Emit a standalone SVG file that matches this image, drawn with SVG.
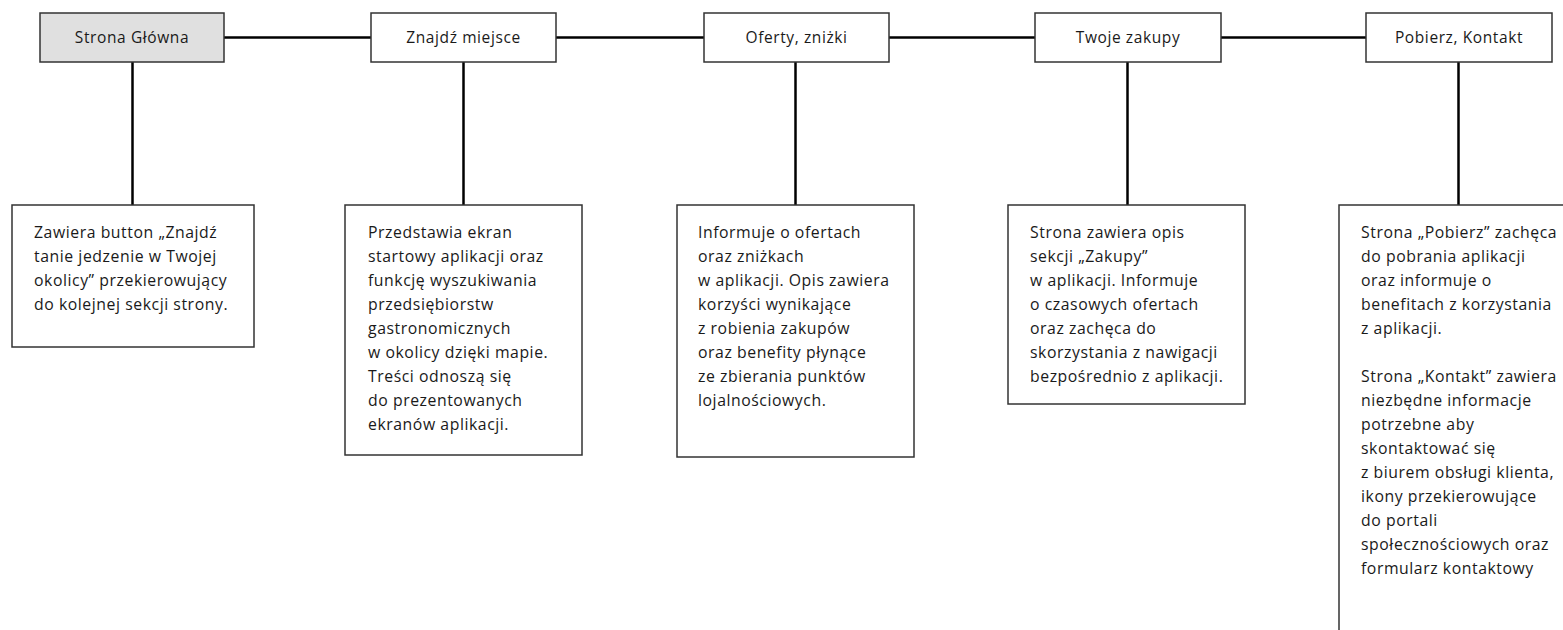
<svg xmlns="http://www.w3.org/2000/svg" width="1563" height="630" viewBox="0 0 1563 630">
<style>
.bg{fill:#ffffff}
.box{fill:#ffffff;stroke:#333333;stroke-width:1.5}
.home{fill:#e0e0e0}
.ln{stroke:#000000;stroke-width:2.5;fill:none}
.lbl{font-family:"Open Sans","Liberation Sans",sans-serif;font-size:15.5px;letter-spacing:0.6px;fill:#1a1a1a;text-anchor:middle}
.txt{font-family:"Open Sans","Liberation Sans",sans-serif;font-size:15.8px;letter-spacing:0.55px;fill:#1a1a1a}
</style>
<rect class="bg" x="0" y="0" width="1563" height="630"/>
<g id="connectors">
<line class="ln" x1="224" y1="37.5" x2="371" y2="37.5"/>
<line class="ln" x1="556" y1="37.5" x2="704" y2="37.5"/>
<line class="ln" x1="889" y1="37.5" x2="1035" y2="37.5"/>
<line class="ln" x1="1221" y1="37.5" x2="1366" y2="37.5"/>
<line class="ln" x1="132.5" y1="62" x2="132.5" y2="205"/>
<line class="ln" x1="463.5" y1="62" x2="463.5" y2="205"/>
<line class="ln" x1="795.5" y1="62" x2="795.5" y2="205"/>
<line class="ln" x1="1127.5" y1="62" x2="1127.5" y2="205"/>
<line class="ln" x1="1458.5" y1="62" x2="1458.5" y2="205"/>
</g>
<g id="n-strona-glowna">
<rect class="box home" x="40" y="13" width="184" height="49"/>
<text class="lbl" x="132" y="43">Strona Główna</text>
</g>
<g id="n-znajdz-miejsce">
<rect class="box" x="371" y="13" width="185" height="49"/>
<text class="lbl" x="463.5" y="43">Znajdź miejsce</text>
</g>
<g id="n-oferty">
<rect class="box" x="704" y="13" width="185" height="49"/>
<text class="lbl" x="796.5" y="43">Oferty, zniżki</text>
</g>
<g id="n-zakupy">
<rect class="box" x="1035" y="13" width="186" height="49"/>
<text class="lbl" x="1128" y="43">Twoje zakupy</text>
</g>
<g id="n-pobierz">
<rect class="box" x="1366" y="13" width="186" height="49"/>
<text class="lbl" x="1459" y="43">Pobierz, Kontakt</text>
</g>
<g id="d-strona-glowna">
<rect class="box" x="12" y="205" width="242" height="142"/>
<text class="txt">
<tspan x="34" y="237.5">Zawiera button „Znajdź</tspan>
<tspan x="34" y="261.5">tanie jedzenie w Twojej</tspan>
<tspan x="34" y="285.5">okolicy” przekierowujący</tspan>
<tspan x="34" y="309.5">do kolejnej sekcji strony.</tspan>
</text>
</g>
<g id="d-znajdz-miejsce">
<rect class="box" x="345" y="205" width="237" height="250"/>
<text class="txt">
<tspan x="368" y="237.5">Przedstawia ekran</tspan>
<tspan x="368" y="261.5">startowy aplikacji oraz</tspan>
<tspan x="368" y="285.5">funkcję wyszukiwania</tspan>
<tspan x="368" y="309.5">przedsiębiorstw</tspan>
<tspan x="368" y="333.5">gastronomicznych</tspan>
<tspan x="368" y="357.5">w okolicy dzięki mapie.</tspan>
<tspan x="368" y="381.5">Treści odnoszą się</tspan>
<tspan x="368" y="405.5">do prezentowanych</tspan>
<tspan x="368" y="429.5">ekranów aplikacji.</tspan>
</text>
</g>
<g id="d-oferty">
<rect class="box" x="677" y="205" width="237" height="252"/>
<text class="txt">
<tspan x="698" y="237.5">Informuje o ofertach</tspan>
<tspan x="698" y="261.5">oraz zniżkach</tspan>
<tspan x="698" y="285.5">w aplikacji. Opis zawiera</tspan>
<tspan x="698" y="309.5">korzyści wynikające</tspan>
<tspan x="698" y="333.5">z robienia zakupów</tspan>
<tspan x="698" y="357.5">oraz benefity płynące</tspan>
<tspan x="698" y="381.5">ze zbierania punktów</tspan>
<tspan x="698" y="405.5">lojalnościowych.</tspan>
</text>
</g>
<g id="d-zakupy">
<rect class="box" x="1008" y="205" width="237" height="199"/>
<text class="txt">
<tspan x="1030" y="237.5">Strona zawiera opis</tspan>
<tspan x="1030" y="261.5">sekcji „Zakupy”</tspan>
<tspan x="1030" y="285.5">w aplikacji. Informuje</tspan>
<tspan x="1030" y="309.5">o czasowych ofertach</tspan>
<tspan x="1030" y="333.5">oraz zachęca do</tspan>
<tspan x="1030" y="357.5">skorzystania z nawigacji</tspan>
<tspan x="1030" y="381.5">bezpośrednio z aplikacji.</tspan>
</text>
</g>
<g id="d-pobierz">
<rect class="box" x="1339" y="205" width="240" height="440"/>
<text class="txt">
<tspan x="1361" y="237.5">Strona „Pobierz” zachęca</tspan>
<tspan x="1361" y="261.5">do pobrania aplikacji</tspan>
<tspan x="1361" y="285.5">oraz informuje o</tspan>
<tspan x="1361" y="309.5">benefitach z korzystania</tspan>
<tspan x="1361" y="333.5">z aplikacji.</tspan>
<tspan x="1361" y="381.5">Strona „Kontakt” zawiera</tspan>
<tspan x="1361" y="405.5">niezbędne informacje</tspan>
<tspan x="1361" y="429.5">potrzebne aby</tspan>
<tspan x="1361" y="453.5">skontaktować się</tspan>
<tspan x="1361" y="477.5">z biurem obsługi klienta,</tspan>
<tspan x="1361" y="501.5">ikony przekierowujące</tspan>
<tspan x="1361" y="525.5">do portali</tspan>
<tspan x="1361" y="549.5">społecznościowych oraz</tspan>
<tspan x="1361" y="573.5">formularz kontaktowy</tspan>
</text>
</g>
</svg>
